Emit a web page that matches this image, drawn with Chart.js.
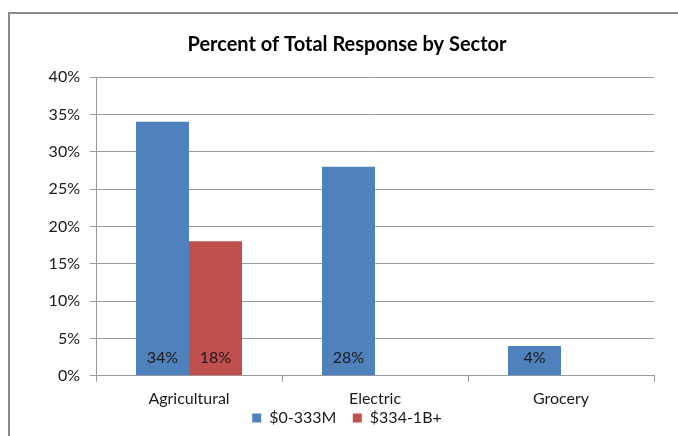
<!DOCTYPE html>
<html>
<head>
<meta charset="utf-8">
<script src="https://cdn.jsdelivr.net/npm/chart.js@4.4.1/dist/chart.umd.min.js"></script>
<style>
  html, body { margin: 0; padding: 0; background: #fff; overflow: hidden; }
  #marco { position: absolute; left: 8px; top: 12px; width: 800px; height: 600px; border: 2px solid #8a8a8a; }
  #caja { position: absolute; left: 0; top: 0; width: 678px; height: 436px; overflow: hidden; }
</style>
</head>
<body>
<div id="marco"></div>
<div id="caja"><canvas id="GraficoSectores" width="678" height="438"></canvas></div>
<script>
// datos
const sectores = ["Agricultural", "Electric", "Grocery"];
const serieNombres = ["$0-333M", "$334-1B+"];
const valoresChicos = [34, 28, 4];
const valoresGrandes = [18, null, null];
const colores = ["#4F81BD", "#C0504D"];

const fuente = "Lato, 'Open Sans', sans-serif";

// etiquetas de valor abajo dentro de cada barra
const etiquetasBarras = {
    id: 'etiquetasBarras',
    afterDatasetsDraw(chart) {
        const ctx = chart.ctx;
        const abajo = chart.chartArea.bottom;
        ctx.save();
        ctx.font = "16px " + fuente;
        ctx.fillStyle = "#1a1a1a";
        ctx.textAlign = "center";
        ctx.textBaseline = "middle";
        chart.data.datasets.forEach(function (ds, i) {
            chart.getDatasetMeta(i).data.forEach(function (barra, j) {
                if (ds.data[j] == null) return;
                ctx.fillText(ds.data[j] + "%", barra.x, abajo - 18);
            });
        });
        ctx.restore();
    }
};

const ctx = document.getElementById('GraficoSectores');
new Chart(ctx, {
    type: 'bar',
    data: {
        labels: sectores,
        datasets: [{
            label: serieNombres[0],
            data: valoresChicos,
            backgroundColor: colores[0],
            categoryPercentage: 0.57,
            barPercentage: 1
        }, {
            label: serieNombres[1],
            data: valoresGrandes,
            backgroundColor: colores[1],
            categoryPercentage: 0.57,
            barPercentage: 1
        }]
    },
    plugins: [etiquetasBarras],
    options: {
        responsive: false,
        animation: false,
        layout: { padding: { left: 40, right: 24, top: 0, bottom: 2 } },
        plugins: {
            title: {
                display: true,
                text: "Percent of Total Response by Sector",
                color: "#000",
                font: { family: fuente, size: 20, weight: 'bold' },
                padding: { top: 33, bottom: 20 }
            },
            legend: {
                position: 'bottom',
                labels: {
                    color: "#1a1a1a",
                    font: { family: fuente, size: 16 },
                    boxWidth: 9,
                    boxHeight: 9,
                    padding: 0,
                    // un poco de aire entre las dos series
                    generateLabels: function (chart) {
                        const items = Chart.defaults.plugins.legend.labels.generateLabels(chart);
                        items[0].text = items[0].text + "    ";
                        return items;
                    }
                }
            },
            tooltip: { enabled: false }
        },
        scales: {
            x: {
                afterFit: function (escala) { escala.height = escala.height - 5; },
                grid: { drawOnChartArea: false, drawTicks: true, tickLength: 6, color: "#9a9a9a" },
                border: { color: "#9a9a9a" },
                ticks: { color: "#1a1a1a", font: { family: fuente, size: 16 }, padding: 7 }
            },
            y: {
                min: 0,
                max: 40,
                afterFit: function (escala) { escala.width = 56; },
                ticks: {
                    stepSize: 5,
                    color: "#1a1a1a",
                    font: { family: fuente, size: 16 },
                    padding: 10,
                    callback: function (v) { return v + "%"; }
                },
                grid: { color: "#9a9a9a", tickLength: 6 },
                border: { color: "#9a9a9a" }
            }
        }
    }
});
</script>
</body>
</html>
